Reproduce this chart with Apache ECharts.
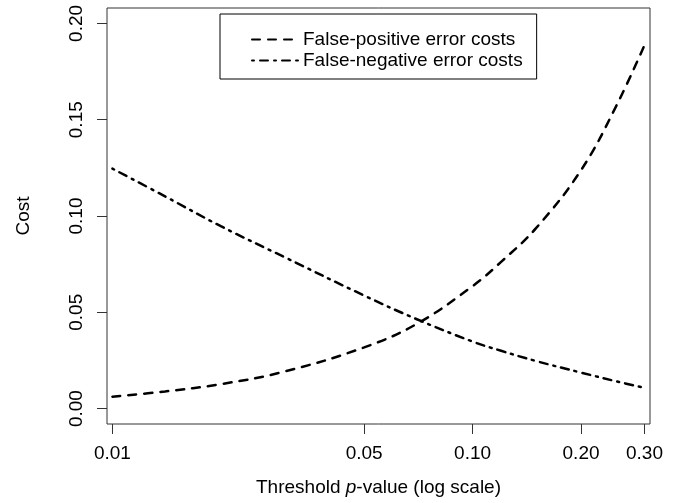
<!DOCTYPE html>
<html>
<head>
<meta charset="utf-8">
<title>Error costs vs threshold</title>
<style type="text/css">
html, body { margin: 0; padding: 0; background: #fff; }
#chart { width: 678px; height: 503px; }
</style>
</head>
<body>
<div id="chart"></div>
<script src="https://cdn.jsdelivr.net/npm/echarts@6/dist/echarts.min.js"></script>
<script>
// values
var pValues = [0.01, 0.014, 0.02, 0.03, 0.05, 0.07, 0.1, 0.12, 0.15, 0.2, 0.25, 0.3];
var fpCosts = [0.0062, 0.0089, 0.0127, 0.0192, 0.0318, 0.044, 0.0636, 0.0762, 0.0937, 0.1238, 0.1568, 0.1887];
var fnCosts = [0.1246, 0.1102, 0.0947, 0.0787, 0.0587, 0.0464, 0.0348, 0.0300, 0.0247, 0.0187, 0.0142, 0.0108];
var xTicks = [0.01, 0.05, 0.1, 0.2, 0.3];
var yTicks = [0, 0.05, 0.1, 0.15, 0.2];
var seriesNames = ['False-positive error costs', 'False-negative error costs'];

var font = '"Liberation Sans", Arial, Helvetica, sans-serif';
var axisColor = '#333';

function pairs(xs, ys) {
  return xs.map(function (x, i) { return [x, ys[i]]; });
}

var chart = echarts.init(document.getElementById('chart'), null, { renderer: 'canvas' });

var option = {
  backgroundColor: '#fff',
  animation: false,
  color: ['#000', '#000'],
  textStyle: { fontFamily: font, color: '#000' },
  grid: {
    left: 107, right: 28, top: 8, bottom: 79,
    show: true, borderColor: axisColor, borderWidth: 1,
    outerBoundsMode: 'none'
  },
  legend: {
    orient: 'vertical',
    left: 220, top: 14,
    padding: [15, 14, 8, 31],
    itemGap: 0,
    itemWidth: 46, itemHeight: 21,
    borderColor: '#000', borderWidth: 1,
    backgroundColor: '#fff',
    itemStyle: { opacity: 0 },
    textStyle: { fontSize: 19, fontFamily: font, color: '#000', lineHeight: 21 },
    data: seriesNames
  },
  xAxis: {
    type: 'log',
    logBase: 10,
    min: 0.00966,
    max: 0.3108,
    name: '{a|Threshold }{i|p}{a|-value (log scale)}',
    nameLocation: 'middle',
    nameGap: 54,
    nameTextStyle: {
      rich: {
        a: { fontSize: 19, fontFamily: font, color: '#000' },
        i: { fontSize: 19, fontFamily: font, color: '#000', fontStyle: 'italic' }
      }
    },
    axisLine: { show: false, onZero: false },
    axisTick: { show: true, customValues: xTicks, length: 10, lineStyle: { color: axisColor, width: 1 } },
    axisLabel: {
      customValues: xTicks, margin: 20, fontSize: 19, color: '#000',
      formatter: function (v) { return Number(v).toFixed(2); }
    },
    splitLine: { show: false },
    minorTick: { show: false }
  },
  yAxis: {
    type: 'value',
    min: -0.008,
    max: 0.208,
    name: 'Cost',
    nameLocation: 'middle',
    nameGap: 74,
    nameTextStyle: { fontSize: 19, color: '#000' },
    axisLine: { show: false, onZero: false },
    axisTick: { show: true, customValues: yTicks, length: 10, lineStyle: { color: axisColor, width: 1 } },
    axisLabel: {
      customValues: yTicks, rotate: 90, margin: 21, fontSize: 19, color: '#000',
      formatter: function (v) { return Number(v).toFixed(2); }
    },
    splitLine: { show: false }
  },
  series: [
    {
      name: seriesNames[0],
      type: 'line',
      data: pairs(pValues, fpCosts),
      smooth: 0.4,
      symbol: 'none',
      lineStyle: { color: '#000', width: 2.5, type: [8, 8], cap: 'round' }
    },
    {
      name: seriesNames[1],
      type: 'line',
      data: pairs(pValues, fnCosts),
      smooth: 0.4,
      symbol: 'none',
      lineStyle: { color: '#000', width: 2.5, type: [2, 6, 8, 6], cap: 'round' }
    }
  ]
};

chart.setOption(option);
</script>
</body>
</html>
